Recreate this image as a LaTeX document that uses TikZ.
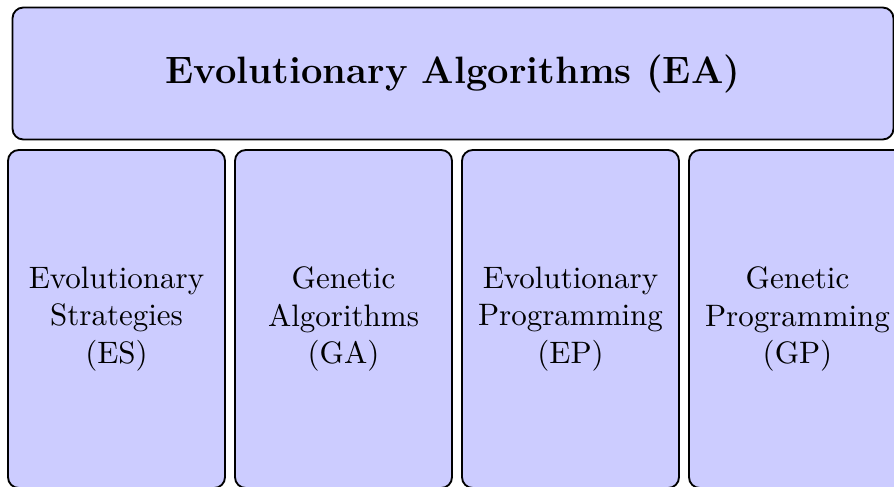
\documentclass[tikz,border=0pt]{standalone}
\begin{document}
\begin{tikzpicture}[x=0.3226pt,y=-0.3226pt,
  box/.style={draw=black, fill=blue!20, rounded corners=3.5pt, semithick,
    inner sep=0pt, outer sep=0pt, align=center},
  topbox/.style={box, minimum width={881*0.3226pt}, minimum height={132*0.3226pt},
    font=\fontsize{12.3}{15}\selectfont\bfseries},
  subbox/.style={box, minimum width={217*0.3226pt}, minimum height={338*0.3226pt}}
]
\useasboundingbox (0,0) rectangle (894,487);
\clip (0,0) rectangle (894,487);
\node[topbox] (ea) at (453,73.5) {Evolutionary Algorithms (EA)};
\node[subbox] (es) at (116.5,319) {Evolutionary\\Strategies\\(ES)};
\node[subbox] (ga) at (343.5,319) {Genetic\\Algorithms\\(GA)};
\node[subbox] (ep) at (570.5,319) {Evolutionary\\Programming\\(EP)};
\node[subbox] (gp) at (797.5,319) {Genetic\\Programming\\(GP)};
\end{tikzpicture}
\end{document}
